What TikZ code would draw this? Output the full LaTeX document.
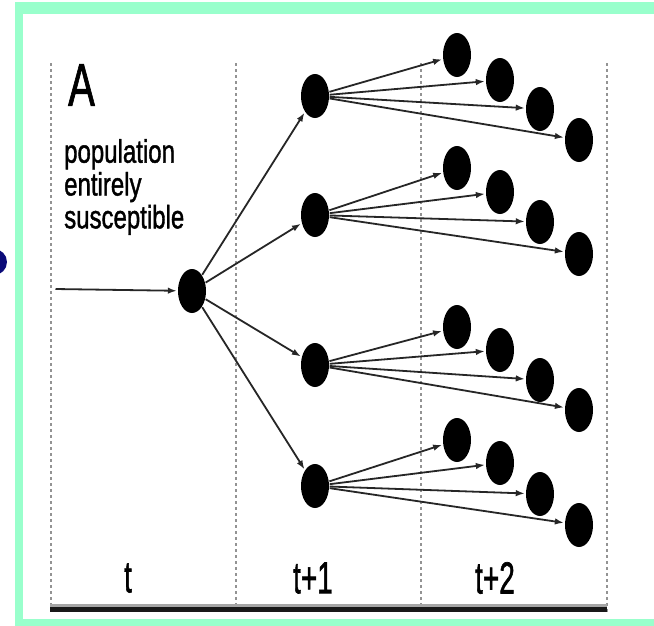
\documentclass[tikz,border=0pt]{standalone}
\usepackage{fontspec}
\setmainfont{Liberation Sans}[FakeBold=1.5]
\usetikzlibrary{arrows.meta,shapes.geometric}
\definecolor{framegreen}{RGB}{153,255,204}
\definecolor{navyblue}{RGB}{10,10,120}
\begin{document}
\begin{tikzpicture}[x=1pt,y=-1pt,
  dot/.style={ellipse,fill=black,draw=none,minimum width=28pt,minimum height=44pt,inner sep=0pt},
  arr/.style={-{Latex[length=9pt,width=6.5pt]},line width=1.8pt,black!85,shorten >=1pt,shorten <=0.5pt},
  vline/.style={gray!85,line width=2pt,dash pattern=on 3pt off 3pt},
  tlabel/.style={inner sep=0pt}
]
\useasboundingbox (0,0) rectangle (654,625);
\clip (0,0) rectangle (654,625);
% frame
\fill[framegreen] (15,2) rectangle (680,640);
\fill[white] (23,14) rectangle (680,619);
\fill[navyblue] (-6,262) circle[radius=13pt];
% dashed time separators
\foreach \x in {51,236,421,607}{\draw[vline] (\x,63) -- (\x,612);}
% axis
\draw[line width=4.5pt,black!90] (50,609.5) -- (607,609.5);
\draw[line width=2.5pt,gray!70] (50,605.5) -- (607,605.5);
% labels
\node[tlabel] (lA) at (81.5,85) {\scalebox{1}[1.5]{\fontsize{40}{40}\selectfont A}};
\node[tlabel,anchor=north west] (ltext) at (64,139) {\scalebox{1}[1.35]{\fontsize{24}{23}\selectfont\begin{tabular}{@{}l@{}}population\\entirely\\susceptible\end{tabular}}};
\node[tlabel] (lt0) at (128,578) {\scalebox{1}[1.6]{\fontsize{28}{28}\selectfont t}};
\node[tlabel] (lt1) at (313,578) {\scalebox{1}[1.6]{\fontsize{28}{28}\selectfont t+1}};
\node[tlabel] (lt2) at (495,578) {\scalebox{1}[1.6]{\fontsize{28}{28}\selectfont t+2}};
% root
\node[dot] (r) at (192,291) {};
\coordinate (s) at (55,289);
\draw[arr] (s) -- (r);
% generation 1 and 2
\foreach \i/\py/\ya/\yb/\yc/\yd in {1/96/55/80/109/140, 2/215/168/192/222/254, 3/365/327/350/380/410, 4/486/440/463/494/525}{
  \node[dot] (p\i) at (315,\py) {};
  \draw[arr] (r) -- (p\i);
  \node[dot] (c\i a) at (457,\ya) {};
  \node[dot] (c\i b) at (500,\yb) {};
  \node[dot] (c\i c) at (540,\yc) {};
  \node[dot] (c\i d) at (579,\yd) {};
  \foreach \k in {a,b,c,d}{\draw[arr] (p\i) -- (c\i\k);}
}
\end{tikzpicture}
\end{document}
